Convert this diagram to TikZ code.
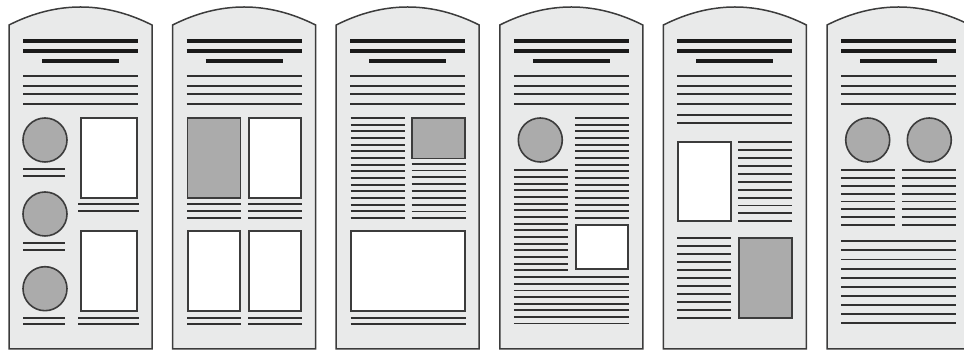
\documentclass[tikz,border=0pt]{standalone}
\usepackage{tikz}
\definecolor{paper}{HTML}{E9EAEA}
\definecolor{rim}{HTML}{3C3C3C}
\definecolor{ink}{HTML}{1A1A1A}
\definecolor{photo}{HTML}{ABABAB}

\begin{document}
\begin{tikzpicture}[x=0.5pt, y=-0.5pt,
	page/.style={fill=paper, draw=rim, line width=0.75pt},
	headbar/.style={draw=ink, line width=2pt},
	txt/.style={draw=ink!90, line width=0.95pt},
	pic/.style={fill=photo, draw=rim, line width=0.8pt},
	blank/.style={fill=white, draw=rim, line width=1pt}]
	\useasboundingbox (0,0) rectangle (964,351);
	\clip (0,0) rectangle (964,351);
	% six pages with the same masthead
	\foreach \L in {9,172.6,336.2,499.8,663.4,827} {
		\begin{scope}[shift={(\L,0)}]
			\draw[page] (0,25) -- (0,349) -- (143,349) -- (143,25) .. controls (95.3,1) and (47.7,1) .. (0,25) -- cycle;
			\draw[headbar] (14,40.7) -- (129,40.7);
			\draw[headbar] (14,50.7) -- (129,50.7);
			\draw[headbar] (33,61) -- (110,61);
			\foreach \y in {76,86,94.3,104.3} \draw[txt] (14,\y) -- (129,\y);
		\end{scope}
	}
	% page 1: three photos left, two boxes right
	\begin{scope}[shift={(9,0)}]
		\foreach \y in {140,214,288.7} \draw[pic] (36,\y) circle[radius=11pt];
		\foreach \y in {169.3,175.7,243.3,250,317.7,324.3} \draw[txt] (14,\y) -- (56,\y);
		\draw[blank] (71.7,118.3) rectangle (127.7,198);
		\draw[blank] (71.7,231.3) rectangle (127.7,311.3);
		\foreach \y in {204.3,211.3,317.7,324.3} \draw[txt] (69.3,\y) -- (130.3,\y);
	\end{scope}
	% page 2: four boxes
	\begin{scope}[shift={(172.6,0)}]
		\draw[pic] (15,118) rectangle (67.7,198);
		\draw[blank] (76,118) rectangle (128.7,198);
		\draw[blank] (15,231.3) rectangle (67.7,311.3);
		\draw[blank] (76,231.3) rectangle (128.7,311.3);
		\foreach \y in {204.3,211.3,218.3,317.7,324.3} {
			\draw[txt] (14.4,\y) -- (68.7,\y);
			\draw[txt] (75.4,\y) -- (129.4,\y);
		}
	\end{scope}
	% page 3: text columns over a wide box
	\begin{scope}[shift={(336.2,0)}]
		\foreach \k in {0,...,15} \draw[txt] (14.5,{118+\k*6.67}) -- (69,{118+\k*6.67});
		\draw[pic] (76,118) rectangle (129,158.7);
		\foreach \k in {0,...,8} \draw[txt] (75.5,{163.7+\k*6.83}) -- (130,{163.7+\k*6.83});
		\draw[blank] (15,231.3) rectangle (129,311.3);
		\foreach \y in {317.7,324.3} \draw[txt] (14.5,\y) -- (130,\y);
	\end{scope}
	% page 4: photo, staggered columns, small box
	\begin{scope}[shift={(499.8,0)}]
		\draw[pic] (40.5,140) circle[radius=11pt];
		\foreach \k in {0,...,15} \draw[txt] (75,{118+\k*6.67}) -- (129,{118+\k*6.67});
		\foreach \k in {0,...,15} \draw[txt] (14,{170.3+\k*6.67}) -- (68,{170.3+\k*6.67});
		\draw[blank] (76.5,225.3) rectangle (128,268.7);
		\foreach \k in {0,...,7} \draw[txt] (14,{277.3+\k*6.6}) -- (129,{277.3+\k*6.6});
	\end{scope}
	% page 5: longer lead, box and photo block
	\begin{scope}[shift={(663.4,0)}]
		\foreach \y in {114.7,123.3} \draw[txt] (14,\y) -- (129,\y);
		\draw[blank] (14.5,142.3) rectangle (67.5,221.3);
		\foreach \k in {0,...,10} \draw[txt] (75,{142.3+\k*7.9}) -- (129,{142.3+\k*7.9});
		\foreach \k in {0,...,10} \draw[txt] (14,{238+\k*8}) -- (68,{238+\k*8});
		\draw[pic] (75.5,238) rectangle (128.5,318);
	\end{scope}
	% page 6: two photos, then full-width text
	\begin{scope}[shift={(827,0)}]
		\draw[pic] (40.7,140) circle[radius=11pt];
		\draw[pic] (102.3,140) circle[radius=11pt];
		\foreach \k in {0,...,7} {
			\draw[txt] (14.3,{170.3+\k*7.8}) -- (68.3,{170.3+\k*7.8});
			\draw[txt] (75.3,{170.3+\k*7.8}) -- (129,{170.3+\k*7.8});
		}
		\foreach \k in {0,...,9} \draw[txt] (14.3,{241.3+\k*9.1}) -- (129,{241.3+\k*9.1});
	\end{scope}
\end{tikzpicture}
\end{document}
